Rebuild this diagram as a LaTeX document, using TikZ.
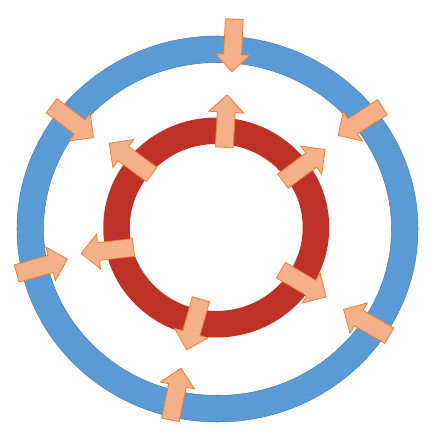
\documentclass[tikz,border=0pt]{standalone}
\usepackage{tikz}
\usetikzlibrary{shapes.arrows}
\definecolor{ringblue}{RGB}{91,155,213}
\definecolor{ringblueedge}{RGB}{72,128,182}
\definecolor{ringred}{RGB}{191,49,39}
\definecolor{arrfill}{RGB}{244,177,137}
\definecolor{arredge}{RGB}{237,125,49}
\begin{document}
\begin{tikzpicture}[x=0.75pt, y=0.75pt, arr/.style = {shape=single arrow, draw=arredge, fill=arrfill, line width=0.6pt, inner xsep=0pt, inner ysep=6.4pt, single arrow head extend=6.4pt, single arrow tip angle=90, minimum height=39.5pt, minimum width=25.5pt}, band/.style = {even odd rule, line width=0.4pt}]
\useasboundingbox (0,0) rectangle (432,439);
\fill[band, ringblue, draw=ringblueedge] (217.5,210) ellipse [x radius=200.5, y radius=193] (217.5,210) ellipse [x radius=174, y radius=166.5];
\foreach \px/\py/\a [count=\i] in {233.25/398/-92.75, 364/320/-147.5, 370.25/114.25/150.2, 174.75/40.5/78.4, 37.75/171.5/15.9, 69/320/-37.3}{\node[arr, rotate=\a] (out\i) at (\px,\py) {};}
\fill[band, ringred] (216.25,211.5) ellipse [x radius=113, y radius=110] (216.25,211.5) ellipse [x radius=86.5, y radius=83.5];
\foreach \px/\py/\a [count=\i] in {225.5/313.5/86.8, 300.5/271/36.7, 299.75/157.75/-30.6, 195/118.75/-105.8, 111.75/189/186.6, 134/277.5/143.6}{\node[arr, rotate=\a] (in\i) at (\px,\py) {};}
\end{tikzpicture}
\end{document}
